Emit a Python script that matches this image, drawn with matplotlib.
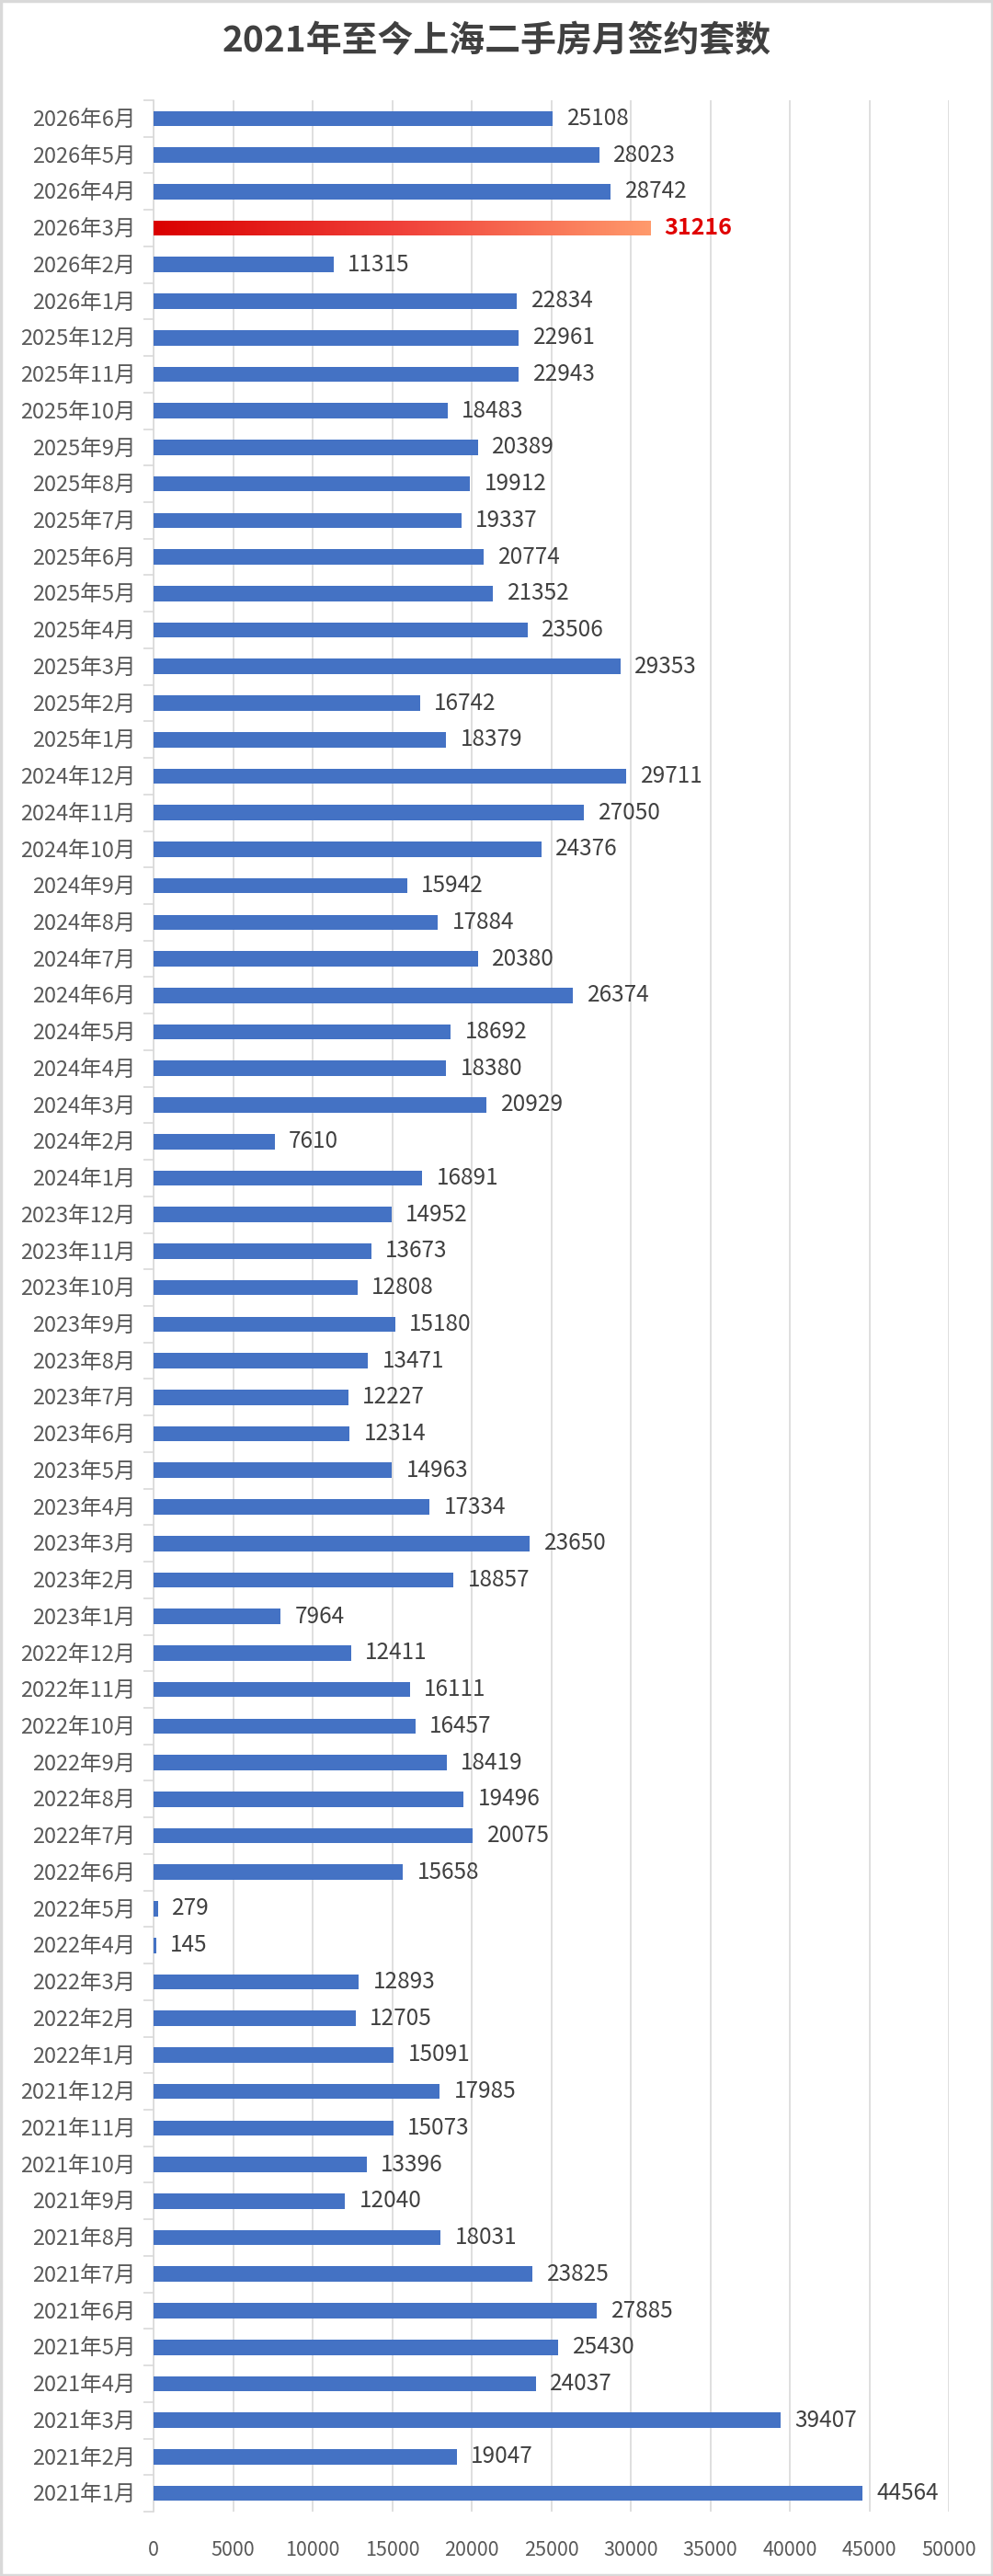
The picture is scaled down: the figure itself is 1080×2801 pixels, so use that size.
import matplotlib
matplotlib.use("Agg")
import matplotlib.pyplot as plt
from matplotlib.colors import LinearSegmentedColormap
from matplotlib.patches import Rectangle
import numpy as np

plt.rcParams['font.family'] = ['Noto Sans CJK SC', 'DejaVu Sans']

# Data, top to bottom as shown in the chart
months = [
    "2026年6月", "2026年5月", "2026年4月", "2026年3月", "2026年2月", "2026年1月",
    "2025年12月", "2025年11月", "2025年10月", "2025年9月", "2025年8月", "2025年7月",
    "2025年6月", "2025年5月", "2025年4月", "2025年3月", "2025年2月", "2025年1月",
    "2024年12月", "2024年11月", "2024年10月", "2024年9月", "2024年8月", "2024年7月",
    "2024年6月", "2024年5月", "2024年4月", "2024年3月", "2024年2月", "2024年1月",
    "2023年12月", "2023年11月", "2023年10月", "2023年9月", "2023年8月", "2023年7月",
    "2023年6月", "2023年5月", "2023年4月", "2023年3月", "2023年2月", "2023年1月",
    "2022年12月", "2022年11月", "2022年10月", "2022年9月", "2022年8月", "2022年7月",
    "2022年6月", "2022年5月", "2022年4月", "2022年3月", "2022年2月", "2022年1月",
    "2021年12月", "2021年11月", "2021年10月", "2021年9月", "2021年8月", "2021年7月",
    "2021年6月", "2021年5月", "2021年4月", "2021年3月", "2021年2月", "2021年1月",
]
values = [
    25108, 28023, 28742, 31216, 11315, 22834,
    22961, 22943, 18483, 20389, 19912, 19337,
    20774, 21352, 23506, 29353, 16742, 18379,
    29711, 27050, 24376, 15942, 17884, 20380,
    26374, 18692, 18380, 20929, 7610, 16891,
    14952, 13673, 12808, 15180, 13471, 12227,
    12314, 14963, 17334, 23650, 18857, 7964,
    12411, 16111, 16457, 18419, 19496, 20075,
    15658, 279, 145, 12893, 12705, 15091,
    17985, 15073, 13396, 12040, 18031, 23825,
    27885, 25430, 24037, 39407, 19047, 44564,
]
highlight = "2026年3月"
x_ticks = [0, 5000, 10000, 15000, 20000, 25000, 30000, 35000, 40000, 45000, 50000]
title = "2021年至今上海二手房月签约套数"

W, H = 1080, 2801
fig = plt.figure(figsize=(W / 100, H / 100), dpi=100)
fig.patch.set_facecolor("white")

left, right, top, bottom = 167, 1032, 109, 2731
ax = fig.add_axes([left / W, 1 - bottom / H, (right - left) / W, (bottom - top) / H])

n = len(months)
ypos = np.arange(n)[::-1]  # first item at the top
bar_h = 0.42
bars = ax.barh(ypos, values, height=bar_h, color="#4472C4", zorder=3)

# gradient for highlighted bar
cmap = LinearSegmentedColormap.from_list("hl", ["#DA0000", "#F0413A", "#FF9A6C"])
for b, m, v, y in zip(bars, months, values, ypos):
    if m == highlight:
        b.set_facecolor("none")
        grad = np.linspace(0, 1, 256).reshape(1, -1)
        im = ax.imshow(grad, cmap=cmap, aspect="auto",
                       extent=[0, v, y - bar_h / 2, y + bar_h / 2], zorder=3)
        clip = Rectangle((0, y - bar_h / 2), v, bar_h, transform=ax.transData)
        im.set_clip_path(clip)
        ax.text(v + 900, y, f"{v}", va="center", ha="left", fontsize=18,
                color="#E00000", fontweight="bold", zorder=4)
    else:
        ax.text(v + 900, y, f"{v}", va="center", ha="left", fontsize=17.5,
                color="#404040", zorder=4)
ax.set_ylim(-0.5, n - 0.5)
ax.set_xlim(0, 50000)

# axes styling
ax.set_yticks(ypos)
ax.set_yticklabels(months, fontsize=17, color="#595959")
ax.tick_params(axis="y", length=0, pad=14)
ax.set_yticks(np.arange(-0.5, n, 1.0), minor=True)
ax.tick_params(axis="y", which="minor", length=8, color="#D9D9D9", width=1.2)

ax.set_xticks(x_ticks)
ax.set_xticklabels([str(t) for t in x_ticks], fontsize=15.5, color="#595959")
ax.tick_params(axis="x", length=0, pad=22)

ax.grid(axis="x", color="#D9D9D9", linewidth=1.2, zorder=0)
ax.set_axisbelow(True)
for s in ["top", "right", "bottom"]:
    ax.spines[s].set_visible(False)
ax.spines["left"].set_color("#D9D9D9")
ax.spines["left"].set_linewidth(1.2)

fig.text(0.5, 1 - 45 / H, title, ha="center", va="center", fontsize=28,
         fontweight="bold", color="#404040")

# outer border
fig.patches.append(Rectangle((0.001, 0.0005), 0.998, 0.999, transform=fig.transFigure,
                             fill=False, edgecolor="#D9D9D9", linewidth=2.5))

fig.savefig("out.png", dpi=100, facecolor="white")
